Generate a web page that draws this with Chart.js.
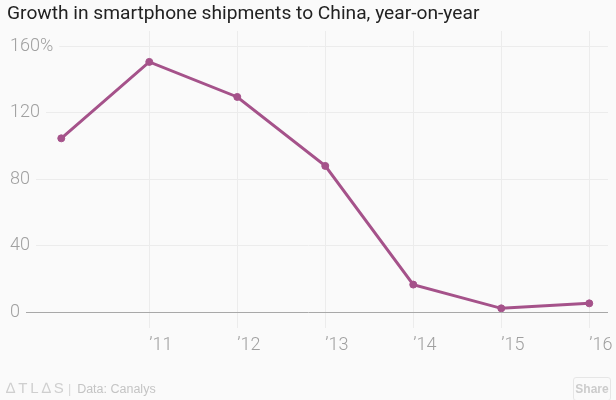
<!DOCTYPE html>
<html>
<head>
<meta charset="utf-8">
<script src="https://cdn.jsdelivr.net/npm/chart.js@4"></script>
<style>
  html, body { margin: 0; padding: 0; background: #fafafa; }
  #wrap { position: relative; width: 616px; height: 400px; }
  #footer { position: absolute; left: 6px; top: 378px; font-family: "Liberation Sans", sans-serif; color: #c4c4c4; font-size: 12.5px; line-height: 20px; white-space: nowrap; }
  #footer .logo { letter-spacing: 3px; font-size: 15px; color: #cfcfcf; }
  #footer .sep { margin: 0 6px 0 1px; color: #d8d8d8; }
  #share { position: absolute; left: 573px; top: 377px; width: 36px; height: 22px; border: 1px solid #e6e6e6; border-radius: 3px; font-family: "Liberation Sans", sans-serif; font-size: 12px; font-weight: bold; color: #cccccc; text-align: center; line-height: 22px; background: #fafafa; }
</style>
</head>
<body>
<div id="wrap">
  <canvas id="myChart" width="616" height="400"></canvas>
  <div id="footer"><span class="logo">∆TL∆S</span><span class="sep">|</span>Data: Canalys</div>
  <div id="share">Share</div>
</div>
<script>
// data
const years = [2010, 2011, 2012, 2013, 2014, 2015, 2016];
const growth = [104.5, 150.5, 129.4, 87.9, 16.5, 2.2, 5.2];
const yearTicks = [2011, 2012, 2013, 2014, 2015, 2016];
const yearLabels = ["’11", "’12", "’13", "’14", "’15", "’16"];
const yTicks = [0, 40, 80, 120, 160];
const yLabels = ["0", "40", "80", "120", "160%"];

const bg = "#fafafa";
const lineColor = "#a5528a";
const tickFont = { family: "Roboto, 'Liberation Sans', sans-serif", size: 18, weight: 300 };

const ctx = document.getElementById("myChart");
new Chart(ctx, {
  type: "line",
  data: {
    datasets: [
      {
        label: "Growth",
        data: years.map((y, i) => ({ x: y, y: growth[i] })),
        borderColor: lineColor,
        backgroundColor: lineColor,
        borderWidth: 3,
        pointRadius: 3.5,
        pointBorderWidth: 1,
        pointHoverRadius: 3.5,
        tension: 0,
      },
    ],
  },
  options: {
    responsive: false,
    animation: false,
    layout: { padding: { left: 7, right: 8, top: 0, bottom: 36.4 } },
    plugins: {
      legend: { display: false },
      tooltip: { enabled: false },
      title: {
        display: true,
        text: "Growth in smartphone shipments to China, year-on-year",
        align: "start",
        color: "#222222",
        font: { family: "Roboto, 'Liberation Sans', sans-serif", size: 19.2, weight: "normal" },
        padding: { top: 3, bottom: 5 },
      },
    },
    scales: {
      x: {
        type: "linear",
        min: 2009.406,
        max: 2016.213,
        afterBuildTicks: (axis) => {
          axis.ticks = yearTicks.map((v) => ({ value: v }));
        },
        afterFit: (axis) => {
          axis.paddingLeft = 0;
          axis.paddingRight = 0;
        },
        border: { display: false },
        grid: { color: "#ececec", lineWidth: 1, drawTicks: true, tickLength: 16, tickColor: "#ececec" },
        ticks: {
          autoSkip: false,
          maxRotation: 0,
          align: "start",
          padding: 7,
          color: "#a0a0a0",
          font: tickFont,
          callback: (v) => yearLabels[yearTicks.indexOf(v)],
        },
      },
      y: {
        min: 0,
        max: 169.06,
        afterBuildTicks: (axis) => {
          axis.ticks = yTicks.map((v) => ({ value: v }));
        },
        border: { display: false },
        grid: {
          drawTicks: false,
          color: (c) => (c.tick && c.tick.value === 0 ? "#a8a8a8" : "#ececec"),
          lineWidth: 1,
        },
        ticks: {
          mirror: true,
          padding: 1,
          color: "#a0a0a0",
          font: tickFont,
          showLabelBackdrop: true,
          backdropColor: bg,
          backdropPadding: { left: 4, right: 6, top: 2, bottom: 2 },
          callback: (v) => yLabels[yTicks.indexOf(v)],
        },
      },
    },
  },
});
</script>
</body>
</html>
